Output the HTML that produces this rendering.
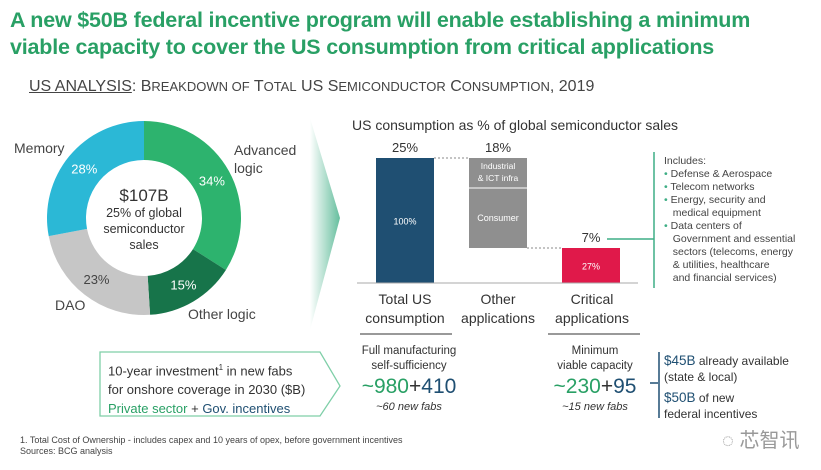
<!DOCTYPE html>
<html><head><meta charset="utf-8"><style>
body{margin:0;width:821px;height:470px;background:#fff;font-family:"Liberation Sans",sans-serif;overflow:hidden;position:relative}
.a{position:absolute;white-space:nowrap}
</style></head><body>
<div class="a" style="left:10px;top:7px;font-size:21.5px;line-height:27px;color:#29a065;font-weight:bold;letter-spacing:-0.2px">A new $50B federal incentive program will enable establishing a minimum<br>viable capacity to cover the US consumption from critical applications</div>
<div class="a" style="left:29px;top:78px;font-size:16px;color:#444"><span style="text-decoration:underline">US ANALYSIS</span>: B<span style="font-size:13px">REAKDOWN OF</span> T<span style="font-size:13px">OTAL</span> US S<span style="font-size:13px">EMICONDUCTOR</span> C<span style="font-size:13px">ONSUMPTION</span>, 2019</div>

<svg class="a" style="left:0;top:0" width="821" height="470">
<defs><linearGradient id="g" x1="0" x2="1"><stop offset="0" stop-color="#fff"/><stop offset="1" stop-color="#3fae85"/></linearGradient></defs>
<g id="donut"></g>
<polygon points="310,118 340,218 310,330" fill="url(#g)" opacity="0.8"/>
<g id="bars"></g>
<line x1="654" y1="152" x2="654" y2="288" stroke="#3fae85" stroke-width="1.5"/>
<line x1="607" y1="239" x2="654" y2="239" stroke="#3fae85" stroke-width="1.5"/>
<line x1="360" y1="334" x2="452" y2="334" stroke="#999" stroke-width="2"/>
<line x1="548" y1="334" x2="640" y2="334" stroke="#999" stroke-width="2"/>
<polygon points="100,352 320,352 340,386 320,416 100,416" fill="none" stroke="#7fcfa8" stroke-width="1.3"/>
<line x1="658" y1="383" x2="650" y2="383" stroke="#1f4f72" stroke-width="1.5"/>
<line x1="659" y1="352" x2="659" y2="418" stroke="#1f4f72" stroke-width="1.5"/>
</svg>

<div class="a" style="left:84px;top:188px;width:120px;text-align:center;font-size:12.5px;line-height:16px;color:#333"><span style="font-size:17px">$107B</span><br>25% of global<br>semiconductor<br>sales</div>
<div class="a" style="left:14px;top:140px;font-size:14px;color:#444">Memory</div>
<div class="a" style="left:234px;top:141px;font-size:14px;line-height:18px;color:#444">Advanced<br>logic</div>
<div class="a" style="left:188px;top:306px;font-size:14px;color:#444">Other logic</div>
<div class="a" style="left:55px;top:297px;font-size:14px;color:#444">DAO</div>

<div class="a" style="left:352px;top:117px;font-size:14px;color:#333">US consumption as % of global semiconductor sales</div>
<div class="a" style="left:364px;top:290px;width:82px;text-align:center;font-size:14px;line-height:19px;color:#333">Total US<br>consumption</div>
<div class="a" style="left:455px;top:290px;width:86px;text-align:center;font-size:14px;line-height:19px;color:#333">Other<br>applications</div>
<div class="a" style="left:549px;top:290px;width:86px;text-align:center;font-size:14px;line-height:19px;color:#333">Critical<br>applications</div>

<div class="a" style="left:664px;top:155px;font-size:10.5px;line-height:13px;color:#444">Includes:<br>
<span style="color:#3fae85">•</span> Defense &amp; Aerospace<br>
<span style="color:#3fae85">•</span> Telecom networks<br>
<span style="color:#3fae85">•</span> Energy, security and<br>&nbsp;&nbsp;&nbsp;medical equipment<br>
<span style="color:#3fae85">•</span> Data centers of<br>&nbsp;&nbsp;&nbsp;Government and essential<br>&nbsp;&nbsp;&nbsp;sectors (telecoms, energy<br>&nbsp;&nbsp;&nbsp;&amp; utilities, healthcare<br>&nbsp;&nbsp;&nbsp;and financial services)</div>

<div class="a" style="left:108px;top:358px;font-size:13px;line-height:19px;color:#333">10-year investment<sup style="font-size:8px">1</sup> in new fabs<br>for onshore coverage in 2030 ($B)<br><span style="color:#29a065">Private sector</span> + <span style="color:#1f4f72">Gov. incentives</span></div>
<div class="a" style="left:348px;top:344px;width:122px;text-align:center;font-size:11.5px;line-height:15px;color:#333">Full manufacturing<br>self-sufficiency<br><span style="font-size:21px;line-height:26px"><span style="color:#29a065">~980</span>+<span style="color:#1f4f72">410</span></span><br><i style="font-size:11px">~60 new fabs</i></div>
<div class="a" style="left:540px;top:344px;width:110px;text-align:center;font-size:11.5px;line-height:15px;color:#333">Minimum<br>viable capacity<br><span style="font-size:21px;line-height:26px"><span style="color:#29a065">~230</span>+<span style="color:#1f4f72">95</span></span><br><i style="font-size:11px">~15 new fabs</i></div>
<div class="a" style="left:664px;top:353px;font-size:12px;line-height:16px;color:#333"><span style="color:#1f4f72;font-size:13.5px">$45B</span> already available<br>(state &amp; local)<br><div style="height:5px"></div><span style="color:#1f4f72;font-size:13.5px">$50B</span> of new<br>federal incentives</div>
<div class="a" style="left:20px;top:435px;font-size:9px;line-height:11px;color:#444">1. Total Cost of Ownership - includes capex and 10 years of opex, before government incentives<br>Sources: BCG analysis</div>
<div class="a" style="left:722px;top:424px;font-size:20px;color:#999;font-family:'Liberation Sans','Noto Sans CJK SC',sans-serif">◌ 芯智讯</div>

<script>
const ns='http://www.w3.org/2000/svg';
const segNames=['Advanced logic','Other logic','DAO','Memory'];
const segValues=[34,15,23,28];
const segColors=['#2db36e','#17744a','#c6c6c6','#2bb8d6'];
const segLabelColors=['#fff','#fff','#444','#fff'];
const cx=144,cy=218,R=97,r=58;
const dg=document.getElementById('donut');
const total=segValues.reduce((a,b)=>a+b,0);
let acc=0;
function pt(rad,f){const a=f*2*Math.PI-Math.PI/2;return [cx+rad*Math.cos(a),cy+rad*Math.sin(a)];}
segValues.forEach((v,i)=>{
 const f0=acc/total,f1=(acc+v)/total;acc+=v;
 const large=(f1-f0)>0.5?1:0;
 const [x0,y0]=pt(R,f0),[x1,y1]=pt(R,f1),[x2,y2]=pt(r,f1),[x3,y3]=pt(r,f0);
 const p=document.createElementNS(ns,'path');
 p.setAttribute('d',`M${x0},${y0}A${R},${R} 0 ${large} 1 ${x1},${y1}L${x2},${y2}A${r},${r} 0 ${large} 0 ${x3},${y3}Z`);
 p.setAttribute('fill',segColors[i]);
 
 
 dg.appendChild(p);
 const [lx,ly]=pt((R+r)/2,(f0+f1)/2);
 const t=document.createElementNS(ns,'text');
 t.setAttribute('x',lx);t.setAttribute('y',ly+5);t.setAttribute('text-anchor','middle');
 t.setAttribute('font-size','13');t.setAttribute('fill',segLabelColors[i]);
 t.textContent=v+'%';
 
 
 dg.appendChild(t);
});
const barCats=['Total US consumption','Other applications','Critical applications'];
const barTotals=[25,18,7];
const otherParts=[6,12];
const innerLabels=['100%','','27%'];
const base=283,scale=5,xs=[376,469,562],w=58;
const y=v=>base-v*scale;
const bg=document.getElementById('bars');
function rect(x,y0,h,fill,name){const e=document.createElementNS(ns,'rect');e.setAttribute('x',x);e.setAttribute('y',y0);e.setAttribute('width',w);e.setAttribute('height',h);e.setAttribute('fill',fill);


bg.appendChild(e);}
function txt(x,yy,s,size,fill){const t=document.createElementNS(ns,'text');t.setAttribute('x',x);t.setAttribute('y',yy);t.setAttribute('text-anchor','middle');t.setAttribute('font-size',size);t.setAttribute('fill',fill);t.textContent=s;


bg.appendChild(t);}
rect(xs[0],y(barTotals[0]),barTotals[0]*scale,'#1f4f72','bar-total');
const otherBot=barTotals[0]-barTotals[1];
rect(xs[1],y(barTotals[0]),otherParts[0]*scale,'#8f8f8f','bar-other-industrial');
rect(xs[1],y(barTotals[0]-otherParts[0]),otherParts[1]*scale,'#8f8f8f','bar-other-consumer');
const dl=document.createElementNS(ns,'line');dl.setAttribute('x1',xs[1]);dl.setAttribute('x2',xs[1]+w);dl.setAttribute('y1',y(barTotals[0]-otherParts[0]));dl.setAttribute('y2',y(barTotals[0]-otherParts[0]));dl.setAttribute('stroke','#fff');


bg.appendChild(dl);
rect(xs[2],y(barTotals[2]),barTotals[2]*scale,'#e0194a','bar-critical');
[[xs[0]+w,xs[1],y(barTotals[0])],[xs[1]+w,xs[2],y(otherBot)]].forEach(([a,b,yy])=>{const l=document.createElementNS(ns,'line');l.setAttribute('x1',a);l.setAttribute('x2',b);l.setAttribute('y1',yy);l.setAttribute('y2',yy);l.setAttribute('stroke','#888');l.setAttribute('stroke-dasharray','2,2');


bg.appendChild(l);});
const ax=document.createElementNS(ns,'line');ax.setAttribute('x1',357);ax.setAttribute('x2',638);ax.setAttribute('y1',base);ax.setAttribute('y2',base);ax.setAttribute('stroke','#aaa');


bg.appendChild(ax);
barTotals.forEach((v,i)=>{const top=i==2?y(v):y(barTotals[0]);txt(xs[i]+w/2,top-6,v+'%',13,'#333');});
txt(xs[0]+w/2,(y(barTotals[0])+base)/2+4,innerLabels[0],9,'#fff');
txt(xs[2]+w/2,(y(barTotals[2])+base)/2+4,innerLabels[2],9,'#fff');
txt(xs[1]+w/2,y(barTotals[0])+11,'Industrial',8.5,'#fff');
txt(xs[1]+w/2,y(barTotals[0])+23,'& ICT infra',8.5,'#fff');
txt(xs[1]+w/2,y(barTotals[0]-otherParts[0])+ otherParts[1]*scale/2+3,'Consumer',9,'#fff');
</script>
</body></html>
